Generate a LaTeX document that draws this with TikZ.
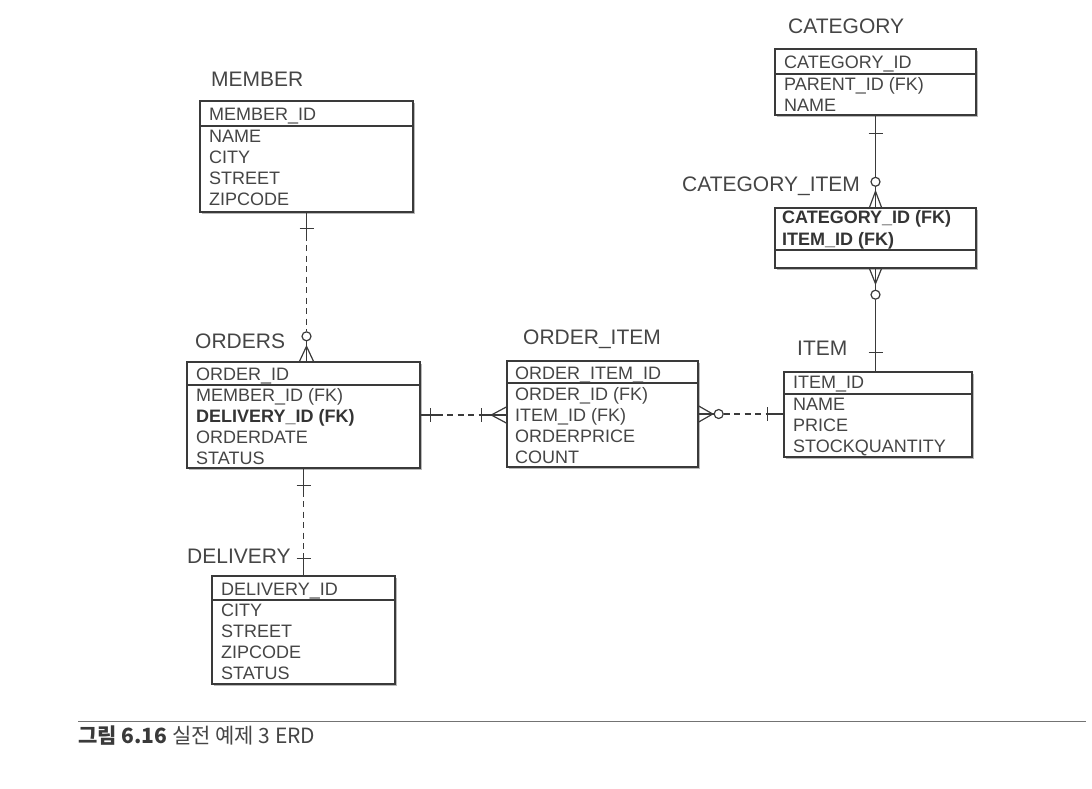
\documentclass[tikz,border=0pt]{standalone}
\usepackage{fontspec}
\setmainfont{Liberation Sans}
\newfontfamily\krfont{Noto Sans CJK KR}
\usetikzlibrary{calc,fit,shadows}
\definecolor{ink}{HTML}{3A3A3A}
\definecolor{txt}{HTML}{454545}
\tikzset{
  tbl/.style={draw=ink, line width=1.4pt, fill=white, inner sep=0pt,
    drop shadow={shadow xshift=1.6pt, shadow yshift=-1.6pt, fill=black!50, opacity=0.55}},
  fld/.style={anchor=base west, inner sep=0pt, font=\fontsize{18}{20}\selectfont, text=txt},
  bfld/.style={fld, font=\fontsize{18}{20}\selectfont\bfseries, text=ink!90!black},
  ttl/.style={anchor=base west, inner sep=0pt, font=\fontsize{21}{24}\selectfont, text=txt},
  divider/.style={draw=ink, line width=1.2pt},
  conn/.style={draw=ink, line width=1.2pt},
  dsh/.style={conn, dash pattern=on 6pt off 4.5pt},
  ring/.style={conn, fill=white},
}
\begin{document}
\begin{tikzpicture}[x=1pt, y=-1pt]
\useasboundingbox (0,0) rectangle (1092,788);

% ---------- tables ----------
\node[tbl, fit={(200,101) (413,212)}] (member) {};
\draw[divider] (200,126) -- (413,126);
\node[fld] (member-1) at (209,120) {MEMBER\_ID};
\node[fld] (member-2) at (209,142) {NAME};
\node[fld] (member-3) at (209,163) {CITY};
\node[fld] (member-4) at (209,184) {STREET};
\node[fld] (member-5) at (209,205) {ZIPCODE};
\node[ttl] (member-t) at (211,86) {MEMBER};

\node[tbl, fit={(187,362) (420,468)}] (orders) {};
\draw[divider] (187,385) -- (420,385);
\node[fld] (orders-1) at (196,380) {ORDER\_ID};
\node[fld] (orders-2) at (196,401) {MEMBER\_ID (FK)};
\node[bfld] (orders-3) at (196,422) {DELIVERY\_ID (FK)};
\node[fld] (orders-4) at (196,443) {ORDERDATE};
\node[fld] (orders-5) at (196,464) {STATUS};
\node[ttl] (orders-t) at (195,348) {ORDERS};

\node[tbl, fit={(507,361) (698,467)}] (oitem) {};
\draw[divider] (507,383) -- (698,383);
\node[fld] (oitem-1) at (515,379) {ORDER\_ITEM\_ID};
\node[fld] (oitem-2) at (515,400) {ORDER\_ID (FK)};
\node[fld] (oitem-3) at (515,421) {ITEM\_ID (FK)};
\node[fld] (oitem-4) at (515,442) {ORDERPRICE};
\node[fld] (oitem-5) at (515,463) {COUNT};
\node[ttl] (oitem-t) at (523,344) {ORDER\_ITEM};

\node[tbl, fit={(784,372) (972,457)}] (item) {};
\draw[divider] (784,394) -- (972,394);
\node[fld] (item-1) at (793,388) {ITEM\_ID};
\node[fld] (item-2) at (793,410) {NAME};
\node[fld] (item-3) at (793,431) {PRICE};
\node[fld] (item-4) at (793,452) {STOCKQUANTITY};
\node[ttl] (item-t) at (797,355) {ITEM};

\node[tbl, fit={(775,49) (976,115)}] (cat) {};
\draw[divider] (775,74) -- (976,74);
\node[fld] (cat-1) at (784,68) {CATEGORY\_ID};
\node[fld] (cat-2) at (784,90) {PARENT\_ID (FK)};
\node[fld] (cat-3) at (784,111) {NAME};
\node[ttl] (cat-t) at (788,33) {CATEGORY};

\node[tbl, fit={(775,208) (976,268)}] (catitem) {};
\draw[divider] (775,250) -- (976,250);
\node[bfld] (catitem-1) at (782,223) {CATEGORY\_ID (FK)};
\node[bfld] (catitem-2) at (782,245) {ITEM\_ID (FK)};
\node[ttl] (catitem-t) at (682,191) {CATEGORY\_ITEM};

\node[tbl, fit={(212,576) (395,684)}] (deliv) {};
\draw[divider] (212,600) -- (395,600);
\node[fld] (deliv-1) at (221,595) {DELIVERY\_ID};
\node[fld] (deliv-2) at (221,616) {CITY};
\node[fld] (deliv-3) at (221,637) {STREET};
\node[fld] (deliv-4) at (221,658) {ZIPCODE};
\node[fld] (deliv-5) at (221,679) {STATUS};
\node[ttl] (deliv-t) at (187,563) {DELIVERY};

% ---------- MEMBER -- ORDERS ----------
\coordinate (mo) at (member.south |- orders.north);
\draw[conn] (member.south) -- ++(0,22);
\draw[dsh] ($(member.south)+(0,22)$) -- ($(mo)+(0,-30)$);
\draw[conn] ($(mo)+(0,-20)$) -- (mo);
\draw[conn] ($(mo)+(-7,0)$) -- ($(mo)+(0,-15)$) -- ($(mo)+(7,0)$);
\draw[ring] ($(mo)+(0,-25)$) circle[radius=4.5pt];
\draw[conn] ($(member.south)+(-7,16)$) -- ++(14,0);

% ---------- ORDERS -- DELIVERY ----------
\coordinate (od) at (orders.south |- deliv.north);
\draw[conn] (orders.south) -- ++(0,22);
\draw[dsh] ($(orders.south)+(0,22)$) -- ($(od)+(0,-22)$);
\draw[conn] ($(od)+(0,-22)$) -- (od);
\draw[conn] ($(orders.south)+(-7,17)$) -- ++(14,0);
\draw[conn] ($(od)+(-7,-17)$) -- ++(14,0);

% ---------- ORDERS -- ORDER_ITEM ----------
\coordinate (oo) at (orders.east -| oitem.west);
\draw[conn] (orders.east) -- ++(16,0);
\draw[dsh] ($(orders.east)+(16,0)$) -- ($(oo)+(-25,0)$);
\draw[conn] ($(oo)+(-25,0)$) -- (oo);
\draw[conn] ($(orders.east)+(10,-7)$) -- ++(0,14);
\draw[conn] ($(oo)+(-25,-7)$) -- ++(0,14);
\draw[conn] ($(oo)+(0,-8)$) -- ($(oo)+(-15,0)$) -- ($(oo)+(0,8)$);

% ---------- ORDER_ITEM -- ITEM ----------
\coordinate (oi) at (oitem.east -| item.west);
\draw[conn] (oitem.east) -- ++(16,0);
\draw[conn] ($(oitem.east)+(0,-8)$) -- ($(oitem.east)+(14,0)$) -- ($(oitem.east)+(0,8)$);
\draw[ring] ($(oitem.east)+(20,0)$) circle[radius=4.5pt];
\draw[dsh] ($(oitem.east)+(25,0)$) -- ($(oi)+(-16,0)$);
\draw[conn] ($(oi)+(-16,0)$) -- (oi);
\draw[conn] ($(oi)+(-16,-7)$) -- ++(0,14);

% ---------- CATEGORY -- CATEGORY_ITEM ----------
\coordinate (cc) at (cat.south |- catitem.north);
\draw[conn] (cat.south) -- ($(cc)+(0,-30)$);
\draw[conn] ($(cc)+(0,-20)$) -- (cc);
\draw[conn] ($(cat.south)+(-7,18)$) -- ++(14,0);
\draw[conn] ($(cc)+(-6,0)$) -- ($(cc)+(0,-16)$) -- ($(cc)+(6,0)$);
\draw[ring] ($(cc)+(0,-25.5)$) circle[radius=4.5pt];

% ---------- CATEGORY_ITEM -- ITEM ----------
\coordinate (ci) at (catitem.south |- item.north);
\draw[conn] (catitem.south) -- ++(0,21);
\draw[conn] ($(catitem.south)+(0,31)$) -- (ci);
\draw[conn] ($(catitem.south)+(-6,0)$) -- ($(catitem.south)+(0,15)$) -- ($(catitem.south)+(6,0)$);
\draw[ring] ($(catitem.south)+(0,26)$) circle[radius=4.5pt];
\draw[conn] ($(ci)+(-7,-19)$) -- ++(14,0);

% ---------- caption ----------
\coordinate (rl) at (78,721);
\coordinate (rr) at (1086,721);
\draw[draw=black!55, line width=1pt] (rl) -- (rr);
\node[anchor=base west, inner sep=0pt, text=txt] (caption) at (78,743)
  {\krfont\fontsize{21}{24}\selectfont{\bfseries\color{ink}그림 6.16} 실전 예제 3 ERD};
\end{tikzpicture}
\end{document}
